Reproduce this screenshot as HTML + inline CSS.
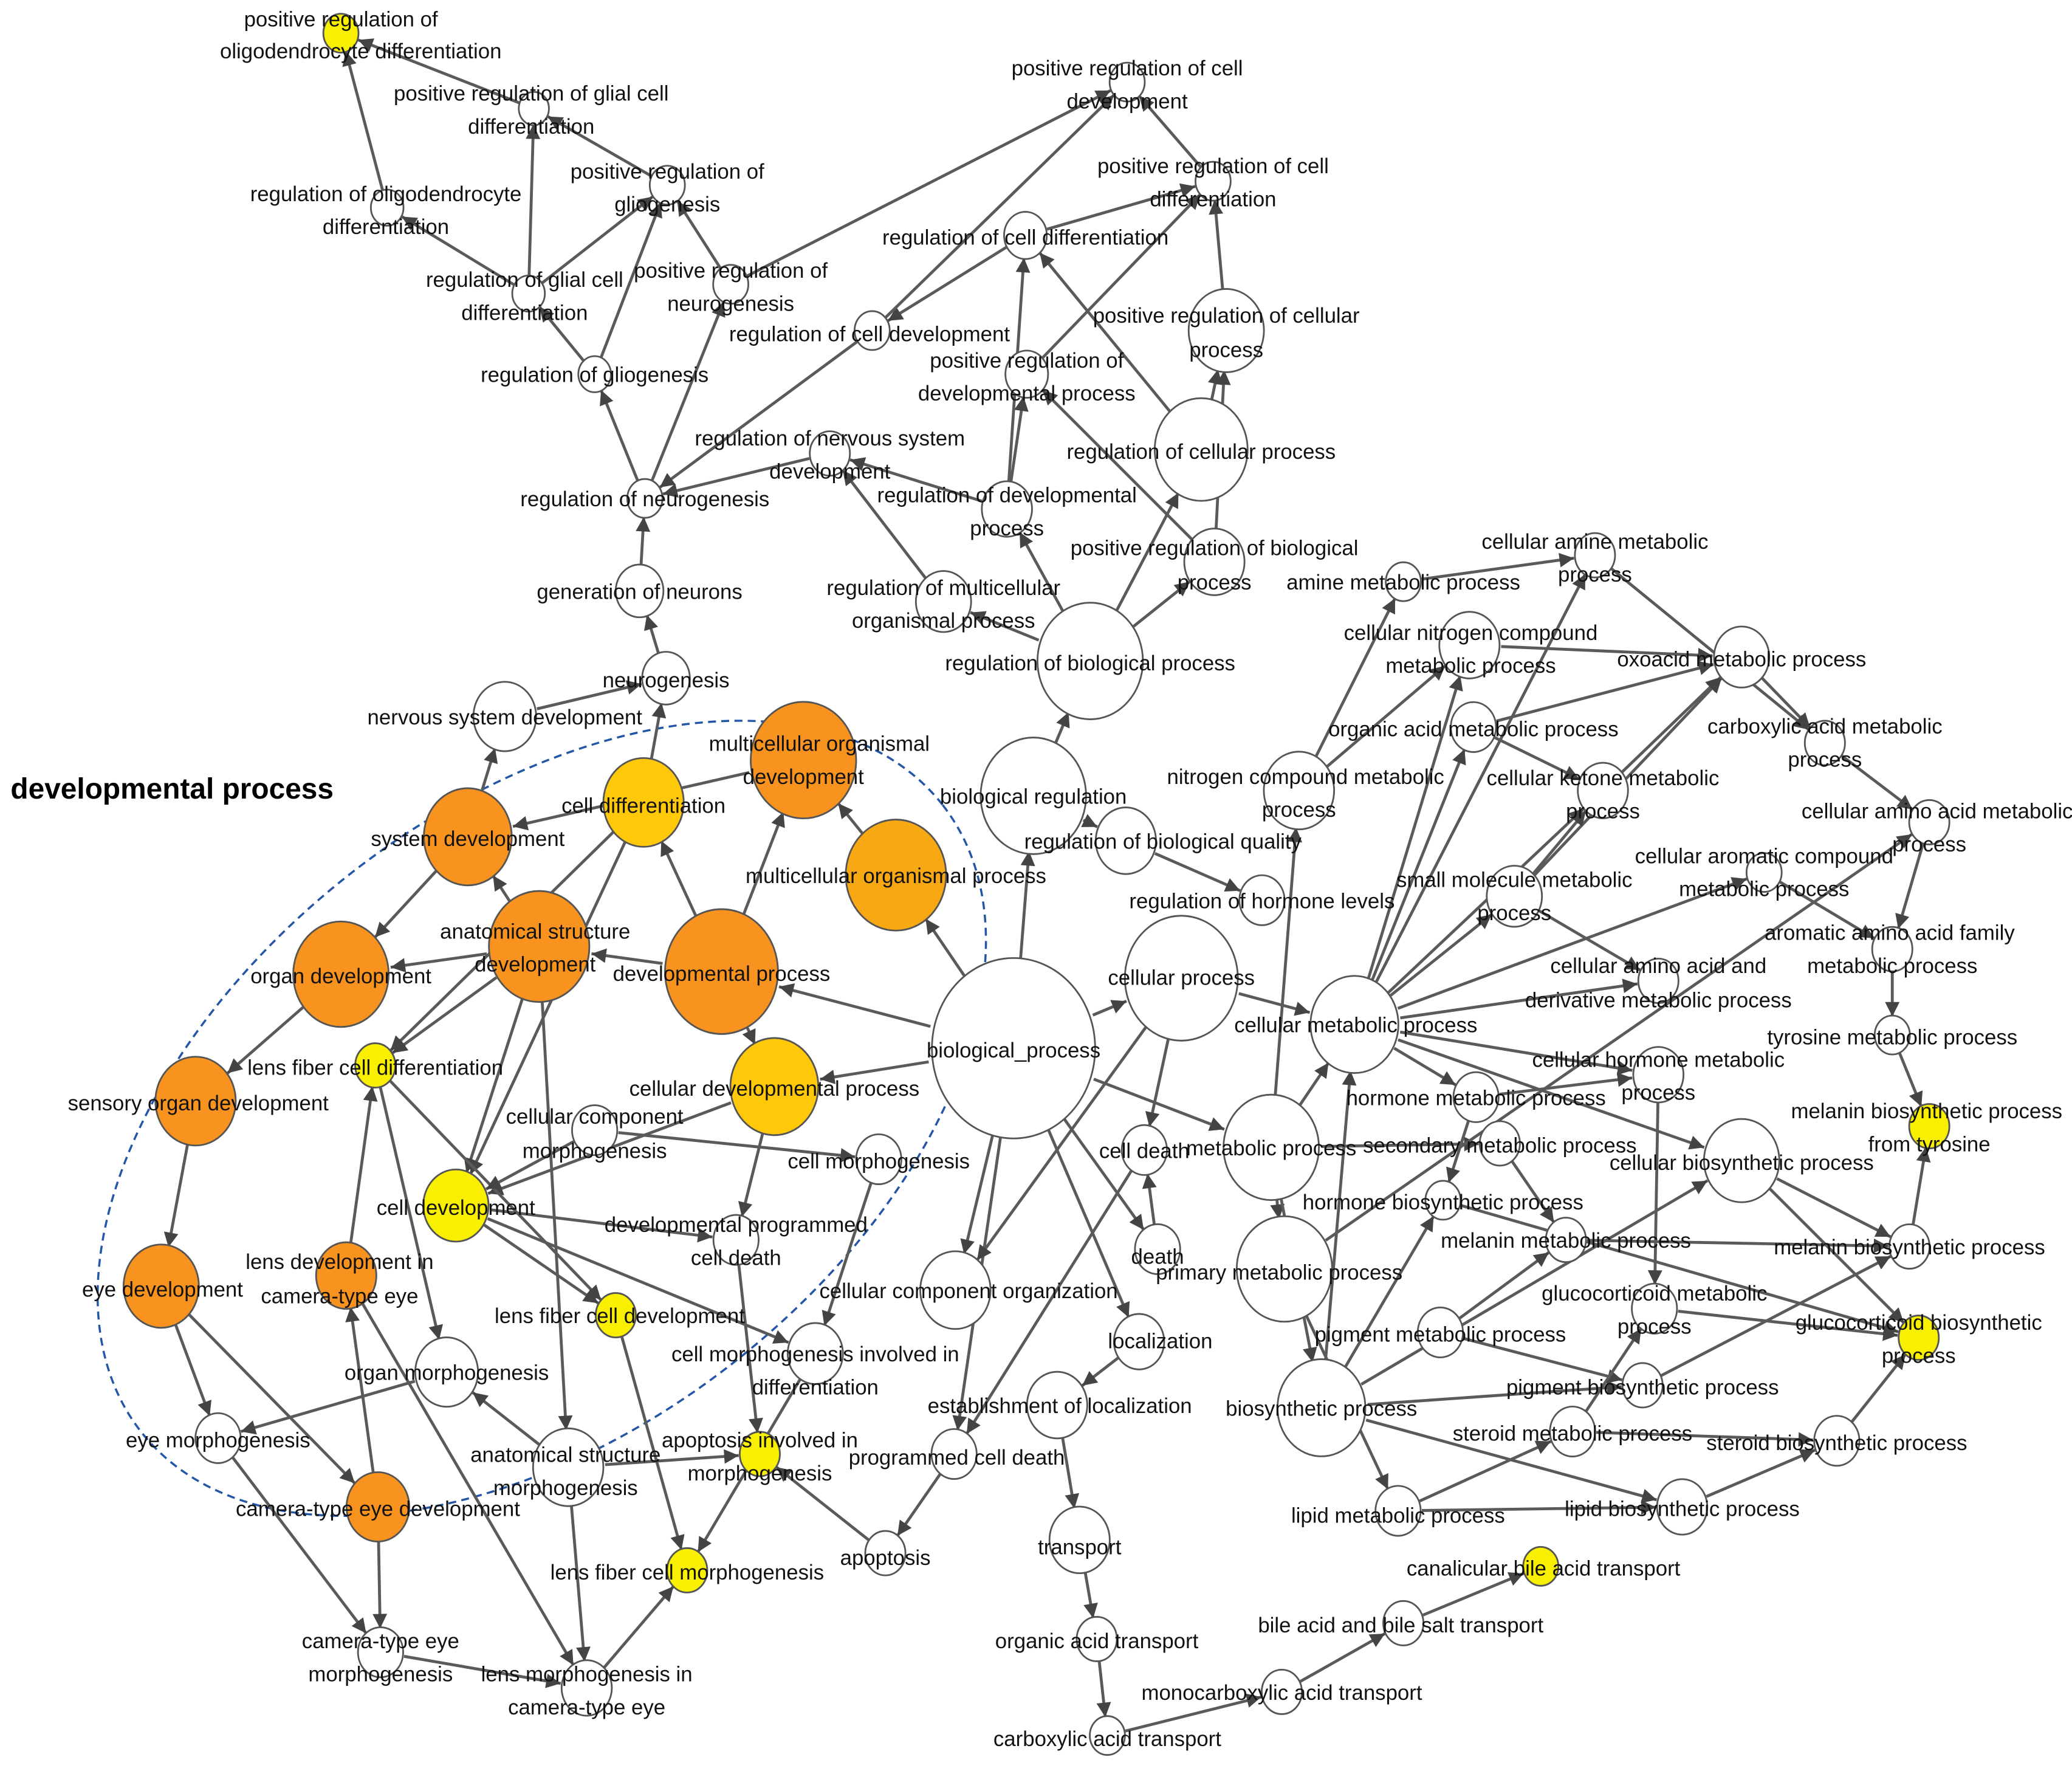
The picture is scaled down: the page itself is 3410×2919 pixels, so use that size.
<!DOCTYPE html>
<html><head><meta charset="utf-8">
<style>
html,body{margin:0;padding:0;background:#fff;}
svg{display:block;}
text{font-family:"Liberation Sans",Arial,sans-serif;font-size:16px;fill:#111;}
</style></head>
<body>
<svg id="s" width="3410" height="2919" viewBox="0 0 1568 1342" xmlns="http://www.w3.org/2000/svg">
<defs>
<marker id="a" viewBox="0 0 10 10" refX="10" refY="5" markerWidth="5.5" markerHeight="5" orient="auto" markerUnits="strokeWidth"><path d="M0,0 L10,5 L0,10 z" fill="#444"/></marker>
</defs>
<rect width="1568" height="1342" fill="#fff"/>
<ellipse cx="410" cy="846" rx="385" ry="235" transform="rotate(-38 410 846)" fill="none" stroke="#2456a8" stroke-width="1.6" stroke-dasharray="6,4"/>
<g id="edges" stroke="#5a5a5a" stroke-width="2.2" fill="none"></g>
<g id="nodes" stroke="#555" stroke-width="1.3"></g>
<g id="labels" text-anchor="middle">
<text x="258" y="20">positive regulation of</text><text x="273" y="44">oligodendrocyte differentiation</text>
<text x="402" y="76">positive regulation of glial cell</text><text x="402" y="101">differentiation</text>
<text x="292" y="152">regulation of oligodendrocyte</text><text x="292" y="177">differentiation</text>
<text x="505" y="135">positive regulation of</text><text x="505" y="160">gliogenesis</text>
<text x="397" y="217">regulation of glial cell</text><text x="397" y="242">differentiation</text>
<text x="553" y="210">positive regulation of</text><text x="553" y="235">neurogenesis</text>
<text x="450" y="289">regulation of gliogenesis</text>
<text x="488" y="383">regulation of neurogenesis</text>
<text x="484" y="453">generation of neurons</text>
<text x="504" y="520">neurogenesis</text>
<text x="382" y="548">nervous system development</text>
<text x="853" y="57">positive regulation of cell</text><text x="853" y="82">development</text>
<text x="918" y="131">positive regulation of cell</text><text x="918" y="156">differentiation</text>
<text x="776" y="185">regulation of cell differentiation</text>
<text x="658" y="258">regulation of cell development</text>
<text x="777" y="278">positive regulation of</text><text x="777" y="303">developmental process</text>
<text x="928" y="244">positive regulation of cellular</text><text x="928" y="270">process</text>
<text x="909" y="347">regulation of cellular process</text>
<text x="628" y="337">regulation of nervous system</text><text x="628" y="362">development</text>
<text x="762" y="380">regulation of developmental</text><text x="762" y="405">process</text>
<text x="919" y="420">positive regulation of biological</text><text x="919" y="446">process</text>
<text x="714" y="450">regulation of multicellular</text><text x="714" y="475">organismal process</text>
<text x="825" y="507">regulation of biological process</text>
<text x="782" y="608">biological regulation</text>
<text x="880" y="642">regulation of biological quality</text>
<text x="955" y="687">regulation of hormone levels</text>
<text x="767" y="800">biological_process</text>
<text x="894" y="745">cellular process</text>
<text x="678" y="668">multicellular organismal process</text>
<text x="620" y="568">multicellular organismal</text><text x="608" y="593">development</text>
<text x="487" y="615">cell differentiation</text>
<text x="354" y="640">system development</text>
<text x="405" y="710">anatomical structure</text><text x="405" y="735">development</text>
<text x="546" y="742">developmental process</text>
<text x="258" y="744">organ development</text>
<text x="586" y="829">cellular developmental process</text>
<text x="284" y="813">lens fiber cell differentiation</text>
<text x="150" y="840">sensory organ development</text>
<text x="450" y="850">cellular component</text><text x="450" y="876">morphogenesis</text>
<text x="665" y="884">cell morphogenesis</text>
<text x="345" y="919">cell development</text>
<text x="557" y="932">developmental programmed</text><text x="557" y="957">cell death</text>
<text x="123" y="981">eye development</text>
<text x="257" y="960">lens development in</text><text x="257" y="986">camera-type eye</text>
<text x="733" y="982">cellular component organization</text>
<text x="469" y="1001">lens fiber cell development</text>
<text x="338" y="1044">organ morphogenesis</text>
<text x="617" y="1030">cell morphogenesis involved in</text><text x="617" y="1055">differentiation</text>
<text x="165" y="1095">eye morphogenesis</text>
<text x="428" y="1106">anatomical structure</text><text x="428" y="1131">morphogenesis</text>
<text x="575" y="1095">apoptosis involved in</text><text x="575" y="1120">morphogenesis</text>
<text x="724" y="1108">programmed cell death</text>
<text x="286" y="1147">camera-type eye development</text>
<text x="670" y="1184">apoptosis</text>
<text x="520" y="1195">lens fiber cell morphogenesis</text>
<text x="288" y="1247">camera-type eye</text><text x="288" y="1272">morphogenesis</text>
<text x="444" y="1272">lens morphogenesis in</text><text x="444" y="1297">camera-type eye</text>
<text x="866" y="876">cell death</text>
<text x="876" y="956">death</text>
<text x="878" y="1020">localization</text>
<text x="802" y="1069">establishment of localization</text>
<text x="817" y="1176">transport</text>
<text x="830" y="1247">organic acid transport</text>
<text x="838" y="1321">carboxylic acid transport</text>
<text x="970" y="1286">monocarboxylic acid transport</text>
<text x="1060" y="1235">bile acid and bile salt transport</text>
<text x="1168" y="1192">canalicular bile acid transport</text>
<text x="962" y="874">metabolic process</text>
<text x="968" y="968">primary metabolic process</text>
<text x="1000" y="1071">biosynthetic process</text>
<text x="1026" y="781">cellular metabolic process</text>
<text x="988" y="593">nitrogen compound metabolic</text><text x="983" y="618">process</text>
<text x="1115" y="557">organic acid metabolic process</text>
<text x="1113" y="484">cellular nitrogen compound</text><text x="1113" y="509">metabolic process</text>
<text x="1062" y="446">amine metabolic process</text>
<text x="1207" y="415">cellular amine metabolic</text><text x="1207" y="440">process</text>
<text x="1318" y="504">oxoacid metabolic process</text>
<text x="1381" y="555">carboxylic acid metabolic</text><text x="1381" y="580">process</text>
<text x="1213" y="594">cellular ketone metabolic</text><text x="1213" y="619">process</text>
<text x="1146" y="671">small molecule metabolic</text><text x="1146" y="696">process</text>
<text x="1466" y="619">cellular amino acid metabolic</text><text x="1460" y="644">process</text>
<text x="1335" y="653">cellular aromatic compound</text><text x="1335" y="678">metabolic process</text>
<text x="1430" y="711">aromatic amino acid family</text><text x="1432" y="736">metabolic process</text>
<text x="1255" y="736">cellular amino acid and</text><text x="1255" y="762">derivative metabolic process</text>
<text x="1432" y="790">tyrosine metabolic process</text>
<text x="1458" y="846">melanin biosynthetic process</text><text x="1460" y="871">from tyrosine</text>
<text x="1255" y="807">cellular hormone metabolic</text><text x="1255" y="832">process</text>
<text x="1117" y="836">hormone metabolic process</text>
<text x="1135" y="872">secondary metabolic process</text>
<text x="1318" y="885">cellular biosynthetic process</text>
<text x="1092" y="915">hormone biosynthetic process</text>
<text x="1185" y="944">melanin metabolic process</text>
<text x="1445" y="949">melanin biosynthetic process</text>
<text x="1252" y="984">glucocorticoid metabolic</text><text x="1252" y="1009">process</text>
<text x="1452" y="1006">glucocorticoid biosynthetic</text><text x="1452" y="1031">process</text>
<text x="1090" y="1015">pigment metabolic process</text>
<text x="1243" y="1055">pigment biosynthetic process</text>
<text x="1190" y="1090">steroid metabolic process</text>
<text x="1390" y="1097">steroid biosynthetic process</text>
<text x="1058" y="1152">lipid metabolic process</text>
<text x="1273" y="1147">lipid biosynthetic process</text>
</g>
<text x="8" y="604" style="font-size:22px;font-weight:bold;fill:#000">developmental process</text>
</svg>
<script>
var O="#f7931e",Y1="#ffc90a",Y="#f8f000",W="#fff";
var N={
po:[258,25,14,Y],prg:[404,82,12,W],ro:[293,157,13,W],ppg:[505,140,14,W],rgd:[400,222,13,W],prn:[553,215,14,W],rg:[450,283,13,W],rn:[488,377,14,W],gn:[484,447,19,W],ng:[504,513,19,W],nsd:[382,542,25,W],
pcd:[853,62,14,W],pcdf:[918,137,14,W],rcd:[776,178,17,W],rcdv:[660,250,14,W],pdp:[777,283,17,W],pcp:[928,250,30,W],rcp:[909,340,37,W],rnsd:[628,343,16,W],rdp:[762,385,20,W],pbp:[919,425,24,W],rmop:[714,455,22,W],rbp:[825,500,42,W],br:[782,602,42,W],rbq:[852,636,24,W],rhl:[955,681,18,W],
bp:[767,793,65,W],cp:[894,740,45,W],mop:[678,662,40,"#f7a812"],mod:[608,575,42,O],cdf:[487,607,32,Y1],sd:[354,633,35,O],asd:[408,716,40,O],dp:[546,735,45,O],od:[258,737,38,O],cdp:[586,822,35,Y1],lfd:[284,806,16,Y],sod:[148,833,32,O],ccm:[450,855,18,W],cm:[665,877,18,W],cdv:[345,912,26,Y],dpcd:[557,938,18,W],ed:[122,973,30,O],ld:[262,965,24,O],cco:[723,976,28,W],lfdv:[466,995,16,Y],om:[338,1038,25,W],cmid:[617,1024,22,W],em:[165,1088,18,W],asm:[430,1110,28,W],aim:[575,1100,16,Y],pcdd:[722,1100,18,W],ced:[286,1140,25,O],ap:[670,1175,16,W],lfm:[520,1188,16,Y],cem:[288,1250,18,W],lm:[444,1277,20,W],
cde:[866,870,18,W],de:[876,945,18,W],lo:[862,1015,20,W],el:[800,1063,24,W],tr:[817,1165,24,W],oat:[830,1240,16,W],cat:[838,1313,14,W],mat:[970,1280,16,W],bat:[1062,1228,16,W],cba:[1166,1185,14,Y],
mp:[962,868,38,W],pmp:[972,960,38,W],bsp:[1000,1065,35,W],cmp:[1025,775,35,W],ncm:[983,598,28,W],oam:[1115,550,18,W],cnc:[1112,488,24,W],am:[1062,440,14,W],cam:[1207,420,16,W],ox:[1318,497,22,W],ca:[1381,562,16,W],ck:[1213,598,20,W],sm:[1146,678,22,W],caa:[1460,622,16,W],car:[1335,660,14,W],aa:[1432,718,16,W],caad:[1255,742,16,W],ty:[1432,783,14,W],mt:[1460,852,16,Y],ch:[1255,813,20,W],hm:[1117,830,18,W],sec:[1135,865,16,W],cb:[1318,878,30,W],hb:[1092,908,14,W],mm:[1185,938,16,W],mb:[1445,943,16,W],gm:[1252,990,18,W],gb:[1452,1012,16,Y],pm:[1090,1008,18,W],pb:[1243,1048,16,W],stm:[1190,1083,18,W],stb:[1390,1090,18,W],lpm:[1058,1143,18,W],lpb:[1273,1140,20,W]};
var E="bp cp,bp dp,bp mop,bp br,bp mp,bp lo,bp de,bp cco,bp cdp,bp pcdd,br rbp,br rbq,rbq rhl,rbp rcp,rbp pbp,rbp rmop,rbp rdp,rmop rnsd,rdp rnsd,rdp pdp,rdp rcd,rcp pcp,rcp rcd,pbp pcp,pbp pdp,pcp pcdf,pdp pcdf,rcd pcdf,rcd rcdv,pcdf pcd,rcdv pcd,rcdv rn,rnsd rn,rn rg,rn prn,rg rgd,rg ppg,prn ppg,prn pcd,rgd prg,rgd ro,rgd ppg,ro po,prg po,ppg prg,gn rn,ng gn,nsd ng,sd nsd,sd od,cdf ng,mod sd,mop mod,dp mod,dp asd,dp cdf,dp cdp,asd sd,asd od,asd cdv,asd asm,asd lfd,cdp cdv,cdp dpcd,cdf lfd,cdf cdv,od sod,sod ed,ed em,ed ced,ced ld,ced cem,ld lfd,ld lm,lfd lfdv,lfd om,cdv lfdv,cdv cmid,cdv dpcd,ccm cm,ccm cdv,cm cmid,om em,asm om,asm aim,asm lm,lfdv lfm,cmid lfm,ap aim,pcdd ap,cde pcdd,de cde,dpcd aim,em cem,cem lm,lm lfm,lo el,el tr,tr oat,oat cat,cat mat,mat bat,bat cba,cp cmp,cp cde,cp cco,mp cmp,mp pmp,mp bsp,mp ncm,mp sec,cmp cnc,cmp sm,cmp cam,cmp ck,cmp car,cmp caad,cmp hm,cmp cb,cmp ch,cmp oam,ncm am,ncm cnc,am cam,cnc ox,oam ox,oam ck,ox ca,ck ox,sm ox,sm ck,sm caad,ca caa,caa aa,car aa,aa ty,ty mt,mb mt,cb mb,cb gb,hm ch,hm hb,ch gm,sec mm,mm mb,pm mm,pm pb,gm gb,stm gm,stm stb,stb gb,lpm stm,lpm lpb,lpb stb,bsp lpb,bsp cb,bsp pb,bsp hb,pmp lpm,pmp caa,cam ca,pb mb,hb gb,bsp cmp".split(",");
var ns="http://www.w3.org/2000/svg",eg=document.getElementById("edges"),ng=document.getElementById("nodes");
E.forEach(function(p){var q=p.split(" "),a=N[q[0]],b=N[q[1]];if(!a||!b)return;var dx=b[0]-a[0],dy=b[1]-a[1],d=Math.sqrt(dx*dx+dy*dy);var ux=dx/d,uy=dy/d;
var l=document.createElementNS(ns,"line");l.setAttribute("x1",a[0]+ux*a[2]);l.setAttribute("y1",a[1]+uy*a[2]);l.setAttribute("x2",b[0]-ux*b[2]);l.setAttribute("y2",b[1]-uy*b[2]);l.setAttribute("marker-end","url(#a)");eg.appendChild(l);});
for(var k in N){var n=N[k],c=document.createElementNS(ns,"ellipse");c.setAttribute("cx",n[0]);c.setAttribute("cy",n[1]);c.setAttribute("rx",n[2]*0.95);c.setAttribute("ry",n[2]*1.05);c.setAttribute("fill",n[3]);ng.appendChild(c);}
</script>
</body></html>
